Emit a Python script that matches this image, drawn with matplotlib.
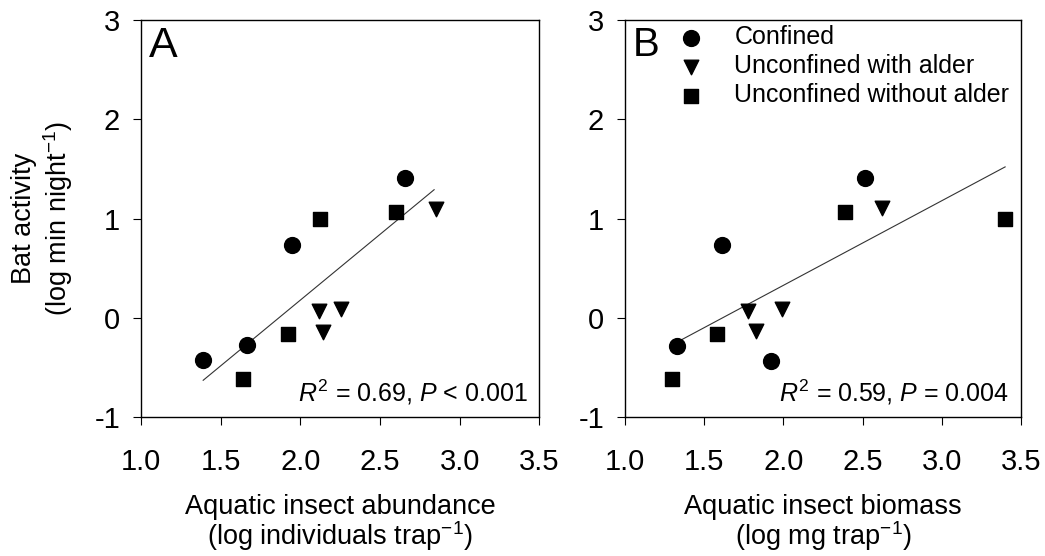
import matplotlib
matplotlib.use('Agg')
import matplotlib.pyplot as plt

plt.rcParams['font.family'] = ['Liberation Sans', 'DejaVu Sans']
plt.rcParams['mathtext.fontset'] = 'custom'
plt.rcParams['mathtext.rm'] = 'Liberation Sans'
plt.rcParams['mathtext.it'] = 'Liberation Sans:italic'
plt.rcParams['mathtext.bf'] = 'Liberation Sans:bold'
plt.rcParams['axes.unicode_minus'] = False

# Panel A: abundance vs bat activity
a_conf_x = [1.39, 1.665, 1.95, 2.656]
a_conf_y = [-0.43, -0.27, 0.73, 1.41]
a_with_x = [2.115, 2.14, 2.256, 2.85]
a_with_y = [0.07, -0.14, 0.09, 1.10]
a_without_x = [1.637, 1.92, 2.126, 2.60]
a_without_y = [-0.62, -0.165, 1.0, 1.07]
a_fit_x = [1.39, 2.84]
a_fit_y = [-0.63, 1.29]

# Panel B: biomass vs bat activity
b_conf_x = [1.33, 1.616, 1.92, 2.513]
b_conf_y = [-0.28, 0.73, -0.44, 1.41]
b_with_x = [1.78, 1.83, 1.99, 2.62]
b_with_y = [0.07, -0.135, 0.09, 1.11]
b_without_x = [1.30, 1.584, 2.387, 3.40]
b_without_y = [-0.62, -0.165, 1.07, 1.0]
b_fit_x = [1.33, 3.40]
b_fit_y = [-0.245, 1.52]

groups = ['Confined', 'Unconfined with alder', 'Unconfined without alder']
xticks = [1.0, 1.5, 2.0, 2.5, 3.0, 3.5]
yticks = [-1, 0, 1, 2, 3]

fig = plt.figure(figsize=(10.45, 5.56), dpi=100)
axA = fig.add_axes([0.135, 0.250, 0.381, 0.714])
axB = fig.add_axes([0.598, 0.250, 0.379, 0.714])


def draw(ax, cx, cy, wx, wy, ox, oy, fx, fy):
    ax.plot(fx, fy, color='#333333', lw=0.8)
    ax.scatter(cx, cy, marker='o', s=130, color='black', label=groups[0], zorder=3)
    ax.scatter(wx, wy, marker='v', s=110, color='black', label=groups[1], zorder=3)
    ax.scatter(ox, oy, marker='s', s=95, color='black', label=groups[2], zorder=3)
    ax.set_xlim(1.0, 3.5)
    ax.set_ylim(-1, 3)
    ax.set_xticks(xticks)
    ax.set_xticklabels([f'{t:.1f}' for t in xticks])
    ax.set_yticks(yticks)
    ax.tick_params(direction='out', length=6, width=0.8, labelsize=21)
    ax.tick_params(axis='x', pad=16)
    ax.tick_params(axis='y', pad=9)
    for s in ax.spines.values():
        s.set_linewidth(1.0)


draw(axA, a_conf_x, a_conf_y, a_with_x, a_with_y, a_without_x, a_without_y, a_fit_x, a_fit_y)
draw(axB, b_conf_x, b_conf_y, b_with_x, b_with_y, b_without_x, b_without_y, b_fit_x, b_fit_y)

axA.text(0.02, 0.985, 'A', transform=axA.transAxes, fontsize=31, va='top', ha='left')
axB.text(0.02, 0.985, 'B', transform=axB.transAxes, fontsize=29, va='top', ha='left')

axA.text(0.97, 0.025, r'$\it{R}^2$ = 0.69, $\it{P}$ < 0.001', transform=axA.transAxes,
         fontsize=18, ha='right', va='bottom')
axB.text(0.97, 0.025, r'$\it{R}^2$ = 0.59, $\it{P}$ = 0.004', transform=axB.transAxes,
         fontsize=18, ha='right', va='bottom')

axB.legend(loc='upper left', bbox_to_anchor=(0.065, 1.025), frameon=False, fontsize=18,
           handletextpad=0.75, labelspacing=0.2, borderaxespad=0.2, scatterpoints=1)

axA.set_ylabel('Bat activity\n' + r'(log min night$^{-1}$)', fontsize=19.5, labelpad=14,
               linespacing=1.15)
axA.set_xlabel('Aquatic insect abundance\n' + r'(log individuals trap$^{-1}$)', fontsize=19.5,
               labelpad=13, linespacing=1.0)
axB.set_xlabel('Aquatic insect biomass\n' + r'(log mg trap$^{-1}$)', fontsize=19.5,
               labelpad=13, linespacing=1.0)

fig.savefig('out.png', dpi=100)
plt.close(fig)
